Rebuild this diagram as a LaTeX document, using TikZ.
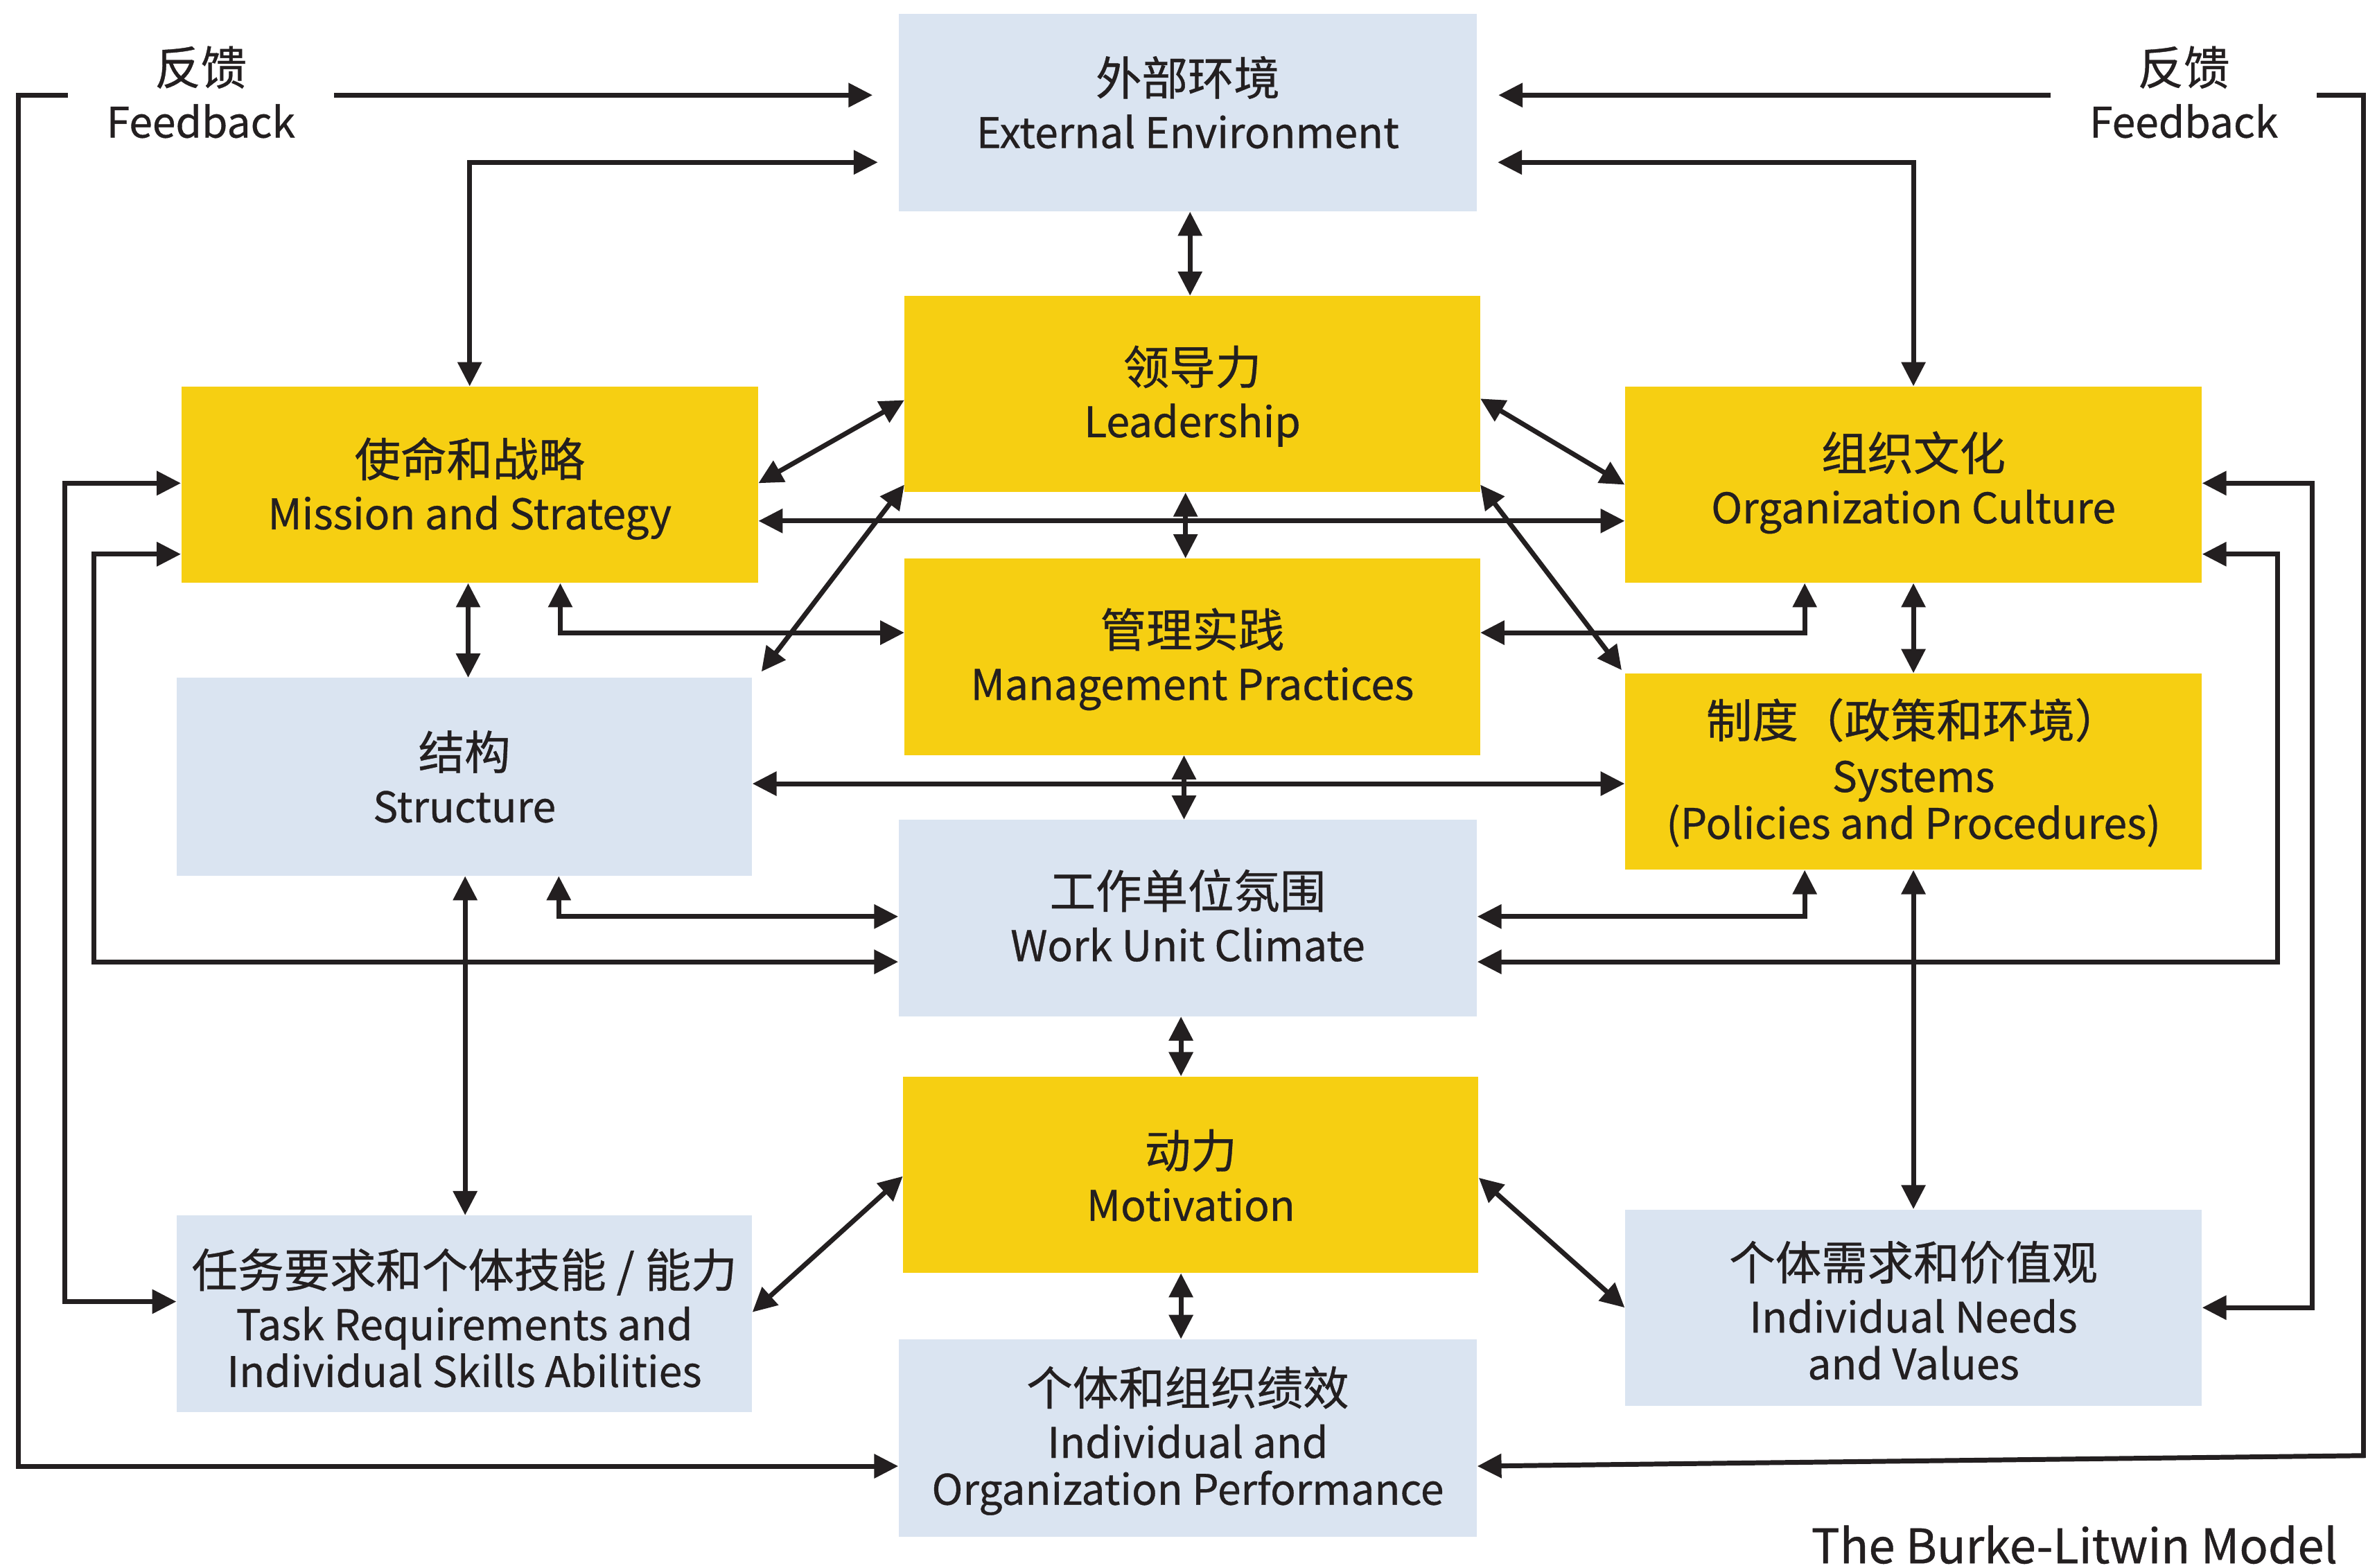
\documentclass[tikz,border=0pt]{standalone}
\usepackage{fontspec}
\setmainfont{Noto Sans CJK SC}[FakeBold=0.6]
\usetikzlibrary{arrows.meta,calc}
\definecolor{byellow}{HTML}{F6CF12}
\definecolor{bblue}{HTML}{DAE4F1}
\definecolor{ink}{HTML}{231F20}
\newcommand\cnt[1]{{\fontsize{30.5pt}{31pt}\selectfont #1}}
\begin{document}
\begin{tikzpicture}[x=1pt,y=-1pt,
  box/.style={minimum width=382pt, minimum height=130pt, inner sep=0pt, align=center, text=ink,
    font=\fontsize{27.8pt}{31pt}\selectfont, text depth=0pt},
  ybox/.style={box, fill=byellow},
  bbox/.style={box, fill=bblue},
  con/.style={line width=3.2pt, draw=ink, line join=miter,
    {Triangle[length=16pt,width=15.5pt]}-{Triangle[length=16pt,width=15.5pt]}},
  fb/.style={fill=white, minimum width=176pt, inner sep=0pt, align=center, text=ink,
    font=\fontsize{27.8pt}{31pt}\selectfont},
]
\useasboundingbox[fill=white] (0,0) rectangle (1568,1038);

% boxes
\node[bbox, minimum width=383pt, minimum height=131pt, text height=47pt] (ext)  at (786.5,74.5) {\cnt{外部环境}\\[4pt]External Environment};
\node[ybox, minimum width=381pt, text height=57pt] (lead) at (789.5,261)  {\cnt{领导力}\\[4pt]Leadership};
\node[ybox, text height=59pt] (mis)  at (311,321)    {\cnt{使命和战略}\\[4pt]Mission and Strategy};
\node[ybox, text height=51pt] (cul)  at (1267,321)   {\cnt{组织文化}\\[4pt]Organization Culture};
\node[ybox, minimum width=381pt, text height=57pt] (man)  at (789.5,435)  {\cnt{管理实践}\\[4pt]Management Practices};
\node[bbox, minimum width=381pt, minimum height=131pt, text height=60pt] (str) at (307.5,514.5) {\cnt{结构}\\[4pt]Structure};
\node[ybox, text height=89pt] (sys)  at (1267,511)   {\cnt{制度（政策和环境）}\\[5pt]Systems\\(Policies and Procedures)};
\node[bbox, minimum width=383pt, text height=57pt] (cli)  at (786.5,608)  {\cnt{工作单位氛围}\\[4pt]Work Unit Climate};
\node[ybox, minimum width=381pt, text height=61pt] (mot)  at (788.5,778)  {\cnt{动力}\\[4pt]Motivation};
\node[bbox, minimum width=381pt, text height=97pt] (task) at (307.5,870)  {\cnt{任务要求和个体技能 / 能力}\\[4pt]Task Requirements and\\Individual Skills Abilities};
\node[bbox, text height=95pt] (need) at (1267,866)   {\cnt{个体需求和价值观}\\[4pt]Individual Needs\\and Values};
\node[bbox, minimum width=383pt, minimum height=131pt, text height=88pt] (perf) at (786.5,952.5) {\cnt{个体和组织绩效}\\[4pt]Individual and\\Organization Performance};

% feedback loops
\draw[con, shorten <=17pt] (ext.west |- 0,63) -| (12,971) -- (perf.west |- 0,971);
\draw[con, shorten <=14pt] (ext.east |- 0,63) -| (1565,964) -- (perf.east |- 0,971);

% external environment links
\draw[con, shorten >=13.5pt] (mis.north) |- (ext.west |- 0,107.5);
\draw[con, shorten <=13.5pt] (ext.east |- 0,107.5) -| (cul.north);
\draw[con] (ext.south -| 788,0) -- (lead.north -| 788,0);

% leadership links
\draw[con] (lead.west |- 0,265) -- (mis.east |- 0,320);
\draw[con] (lead.east |- 0,264) -- (cul.west |- 0,321);
\draw[con] (lead.west |- 0,321) -- ([shift={(6,-4)}]str.north east);
\draw[con] (lead.east |- 0,321) -- ([shift={(-2,-2)}]sys.north west);
\draw[con] (mis.east |- 0,345) -- (cul.west |- 0,345);
\draw[con] (lead.south -| 785,0) -- (man.north -| 785,0);

% management links
\draw[con] (mis.south -| 371,0) |- (man.west |- 0,419);
\draw[con] (man.east |- 0,419) -| (cul.south -| 1195,0);
\draw[con] (mis.south -| 310,0) -- (str.north -| 310,0);
\draw[con] (cul.south) -- (sys.north);
\draw[con] (str.east |- 0,519) -- (sys.west |- 0,519);
\draw[con] (man.south -| 784,0) -- (cli.north -| 784,0);

% climate links
\draw[con] (str.south -| 370,0) |- (cli.west |- 0,607);
\draw[con] (sys.south -| 1195,0) |- (cli.east |- 0,607);
\draw[con] (mis.west |- 0,367) -| (62,637) -- (cli.west |- 0,637);
\draw[con] (cul.east |- 0,367) -| (1508,637) -- (cli.east |- 0,637);

% outer side loops
\draw[con] (mis.west |- 0,320) -| (43,862) -- (task.west |- 0,862);
\draw[con] (cul.east |- 0,320) -| (1531,866) -- (need.east |- 0,866);

% lower links
\draw[con] (str.south -| 308,0) -- (task.north -| 308,0);
\draw[con] (sys.south -| 1267,0) -- (need.north -| 1267,0);
\draw[con] (cli.south -| 782,0) -- (mot.north -| 782,0);
\draw[con] (mot.west |- 0,779) -- (task.east |- 0,869);
\draw[con] (mot.east |- 0,780) -- (need.west |- 0,866);
\draw[con] (mot.south -| 782,0) -- (perf.north -| 782,0);

% feedback labels
\node[fb] (fbL) at (133,61) {\cnt{反馈}\\[4pt]Feedback};
\node[fb] (fbR) at (1446,61) {\cnt{反馈}\\[4pt]Feedback};

% title
\node[anchor=east, inner sep=0pt, text=ink, font=\fontsize{31.5pt}{34pt}\selectfont] (title) at (1548,1023) {The Burke-Litwin Model};
\end{tikzpicture}
\end{document}
